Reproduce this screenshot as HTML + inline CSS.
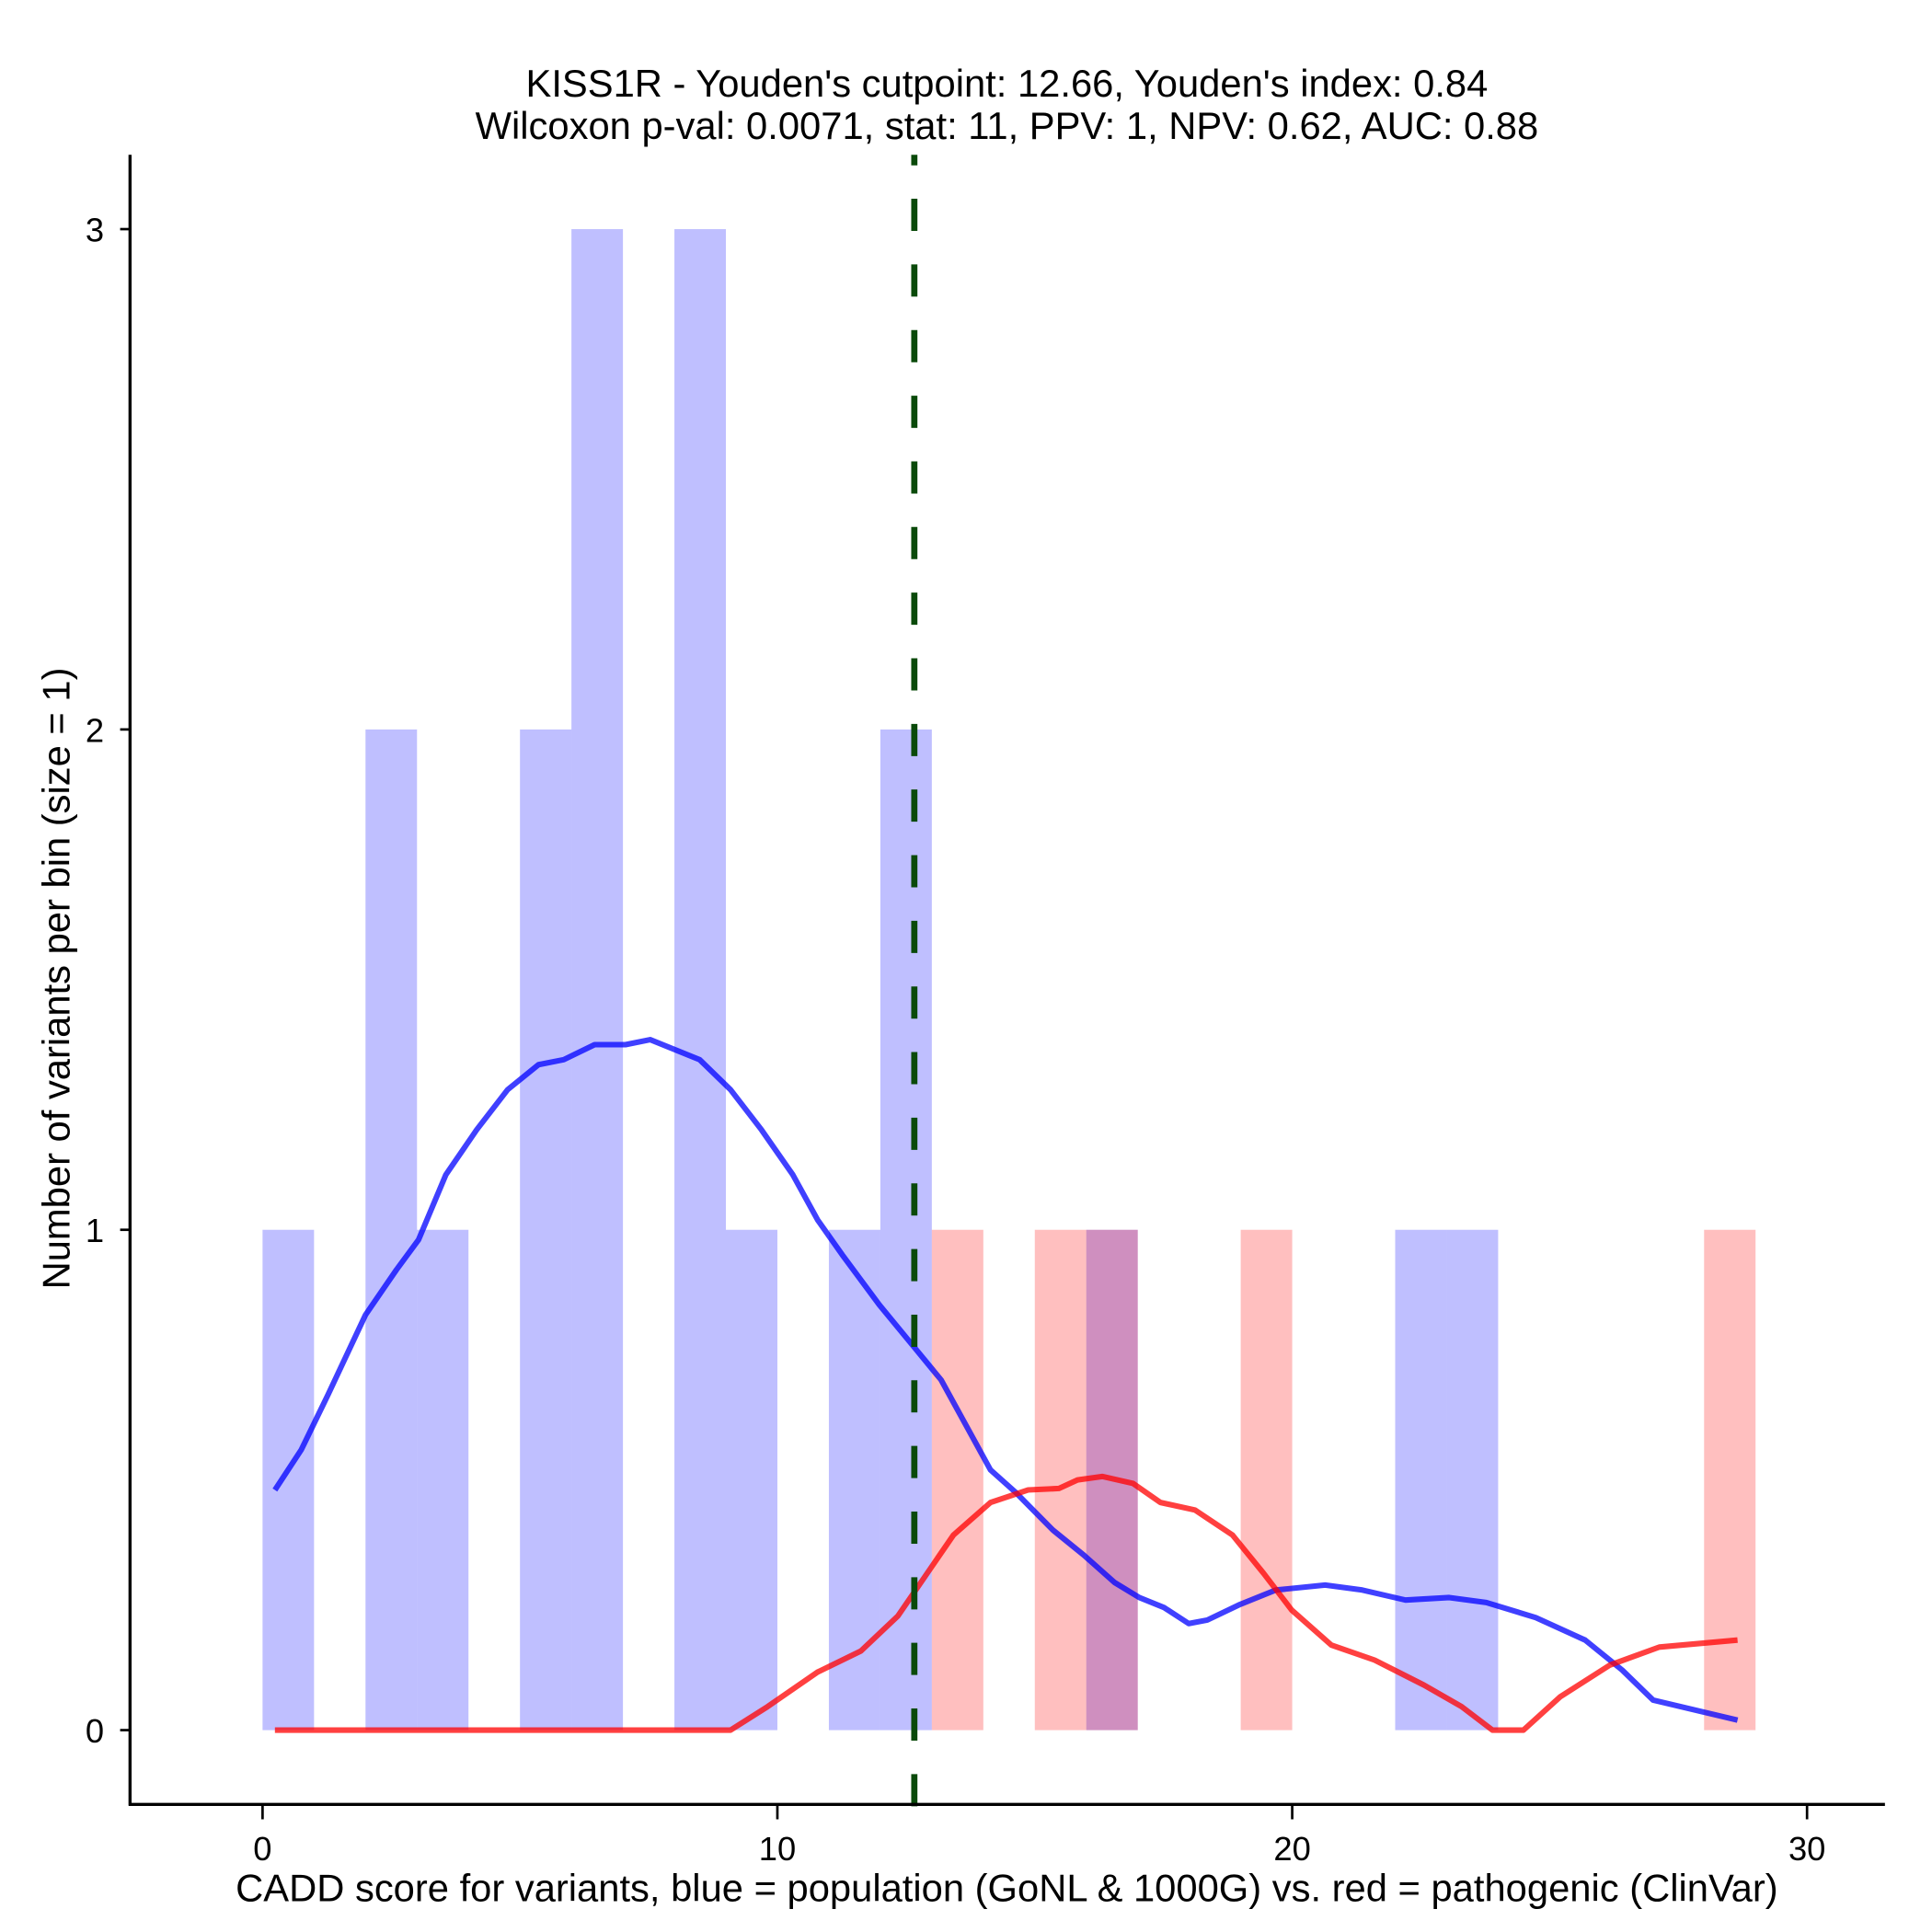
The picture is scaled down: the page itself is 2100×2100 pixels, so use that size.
<!DOCTYPE html>
<html><head><meta charset="utf-8"><style>
html,body{margin:0;padding:0;background:#fff;}
svg{display:block;font-family:"Liberation Sans",Arial,sans-serif;}
</style></head><body>
<svg id="chart" width="2100" height="2100" viewBox="0 0 1560 1560" xmlns="http://www.w3.org/2000/svg">
<g id="bars"></g>
<g id="lines"></g>
<line id="cut" y1="125" y2="1470" stroke="#0a4a0a" stroke-width="5" stroke-dasharray="26 27" stroke-dashoffset="17.5"/>
<g id="axes"></g>
<text x="813" y="78" text-anchor="middle" font-size="31">KISS1R - Youden's cutpoint: 12.66, Youden's index: 0.84</text>
<text x="813" y="112" text-anchor="middle" font-size="31">Wilcoxon p-val: 0.0071, stat: 11, PPV: 1, NPV: 0.62, AUC: 0.88</text>
<text x="813" y="1535" text-anchor="middle" font-size="31">CADD score for variants, blue = population (GoNL &amp; 1000G) vs. red = pathogenic (ClinVar)</text>
<text transform="translate(56,790) rotate(-90)" text-anchor="middle" font-size="31">Number of variants per bin (size = 1)</text>
</svg>
<script>
const blueBins = [0,2,3,5,6,8,9,11,12,16,22,23];
const blueCounts = [1,2,1,2,3,3,1,1,2,1,1,1];
const redBins = [13,15,16,19,28];
const redCounts = [1,1,1,1,1];
const blueX = [0.24,0.75,1.27,2.0,2.6,3.03,3.56,4.16,4.76,5.36,5.85,6.45,7.05,7.53,8.01,8.49,9.09,9.69,10.3,10.78,11.26,11.98,12.7,13.18,13.66,14.14,14.63,15.35,15.95,16.55,17.03,17.51,17.99,18.35,18.96,19.68,20.64,21.36,22.2,23.05,23.77,24.73,25.69,26.41,27.01,28.65];
const blueY = [0.48,0.56,0.67,0.83,0.92,0.98,1.11,1.2,1.28,1.33,1.34,1.37,1.37,1.38,1.36,1.34,1.28,1.2,1.11,1.02,0.95,0.85,0.76,0.7,0.61,0.52,0.475,0.4,0.35,0.295,0.265,0.245,0.213,0.22,0.25,0.28,0.29,0.28,0.26,0.265,0.255,0.225,0.18,0.12,0.06,0.02];
const redX = [0.24,9.09,9.81,10.78,11.62,12.34,12.82,13.42,14.14,14.87,15.47,15.83,16.31,16.91,17.44,18.11,18.84,19.44,19.99,20.76,21.6,22.56,23.29,23.89,24.49,25.21,26.17,27.13,28.65];
const redY = [0,0,0.047,0.116,0.158,0.228,0.3,0.39,0.455,0.48,0.483,0.5,0.507,0.493,0.455,0.44,0.39,0.314,0.24,0.17,0.14,0.09,0.047,0,0,0.067,0.13,0.166,0.18];
const xTicks = [0,10,20,30];
const yTicks = [0,1,2,3];
const cutpoint = 12.66;

const NS="http://www.w3.org/2000/svg";
const sx = v => 212 + v*41.57;
const sy = v => 1397 - v*404;
function mk(tag, parent){const e=document.createElementNS(NS,tag);parent.appendChild(e);return e;}
const bars=document.getElementById('bars');
blueBins.forEach((b,i)=>{
  const r=mk('rect',bars);
  
  
  r.setAttribute('x',sx(b));r.setAttribute('width',sx(b+1)-sx(b));
  r.setAttribute('y',sy(blueCounts[i]));r.setAttribute('height',sy(0)-sy(blueCounts[i]));
  r.setAttribute('fill','#0000ff');r.setAttribute('fill-opacity','0.25');
});
redBins.forEach((b,i)=>{
  const r=mk('rect',bars);
  
  
  r.setAttribute('x',sx(b));r.setAttribute('width',sx(b+1)-sx(b));
  r.setAttribute('y',sy(redCounts[i]));r.setAttribute('height',sy(0)-sy(redCounts[i]));
  r.setAttribute('fill','#ff0000');r.setAttribute('fill-opacity','0.25');
});
const lines=document.getElementById('lines');
function curve(xs,ys,col,name){
  const p=mk('polyline',lines);
  
  
  p.setAttribute('points',xs.map((x,i)=>sx(x)+','+sy(ys[i])).join(' '));
  p.setAttribute('fill','none');p.setAttribute('stroke',col);p.setAttribute('stroke-opacity','0.75');
  p.setAttribute('stroke-width','4.5');p.setAttribute('stroke-linejoin','round');
}
curve(blueX,blueY,'#0000ff','blue-density-line');
curve(redX,redY,'#ff0000','red-density-line');
const cut=document.getElementById('cut');
cut.setAttribute('x1',sx(cutpoint));cut.setAttribute('x2',sx(cutpoint));
const axes=document.getElementById('axes');
let l=mk('line',axes);


l.setAttribute('x1',105);l.setAttribute('x2',105);l.setAttribute('y1',125);l.setAttribute('y2',1458);l.setAttribute('stroke','#000');l.setAttribute('stroke-width','2.5');
l=mk('line',axes);


l.setAttribute('x1',104);l.setAttribute('x2',1522);l.setAttribute('y1',1457);l.setAttribute('y2',1457);l.setAttribute('stroke','#000');l.setAttribute('stroke-width','2.5');
xTicks.forEach(t=>{
  const k=mk('line',axes);
  
  
  k.setAttribute('x1',sx(t));k.setAttribute('x2',sx(t));k.setAttribute('y1',1457);k.setAttribute('y2',1469);k.setAttribute('stroke','#000');k.setAttribute('stroke-width','2');
  const tx=mk('text',axes);
  
  
  tx.setAttribute('x',sx(t));tx.setAttribute('y',1502);tx.setAttribute('text-anchor','middle');tx.setAttribute('font-size','27');
  tx.textContent=t;
});
yTicks.forEach(t=>{
  const k=mk('line',axes);
  
  
  k.setAttribute('x1',97);k.setAttribute('x2',105);k.setAttribute('y1',sy(t));k.setAttribute('y2',sy(t));k.setAttribute('stroke','#000');k.setAttribute('stroke-width','2');
  const tx=mk('text',axes);
  
  
  tx.setAttribute('x',84);tx.setAttribute('y',sy(t)+10);tx.setAttribute('text-anchor','end');tx.setAttribute('font-size','27');
  tx.textContent=t;
});
</script>
</body></html>
